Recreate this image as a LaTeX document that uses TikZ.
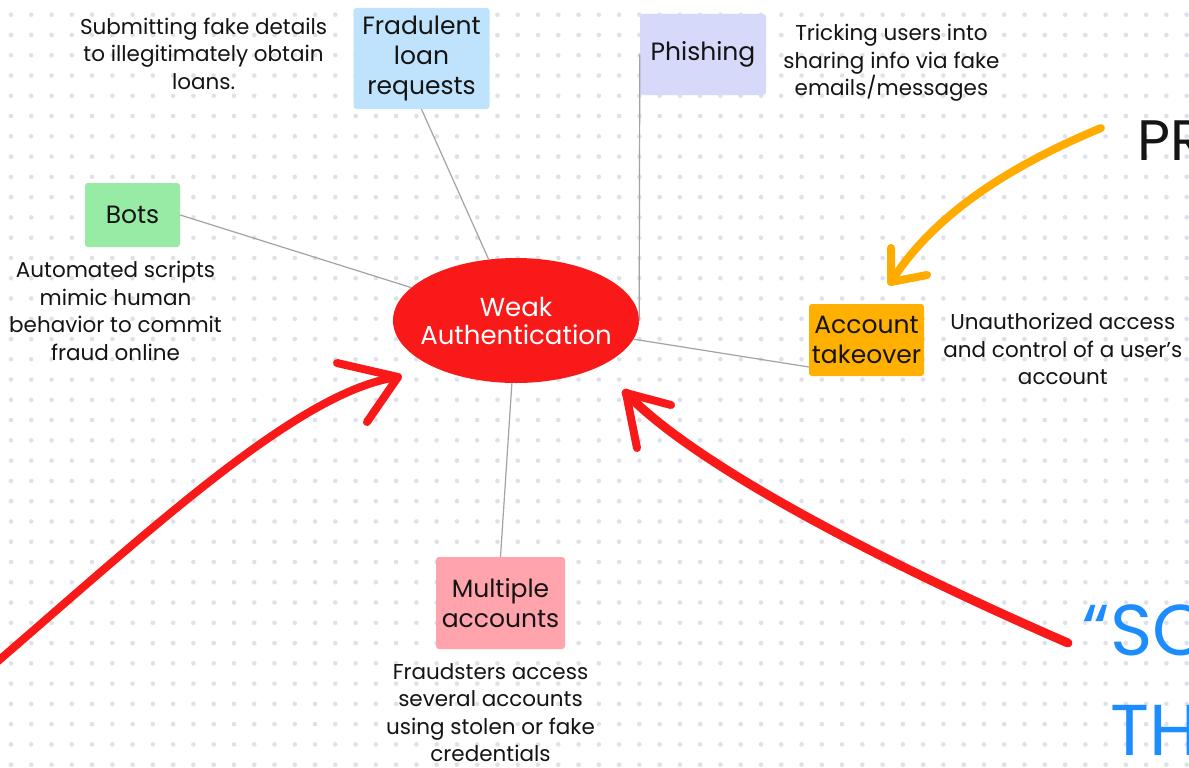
\documentclass[tikz,border=0pt]{standalone}
\usepackage{fontspec}
\setmainfont{Poppins}
\usetikzlibrary{positioning,shapes.geometric}
\definecolor{ink}{HTML}{141414}
\definecolor{linkgray}{HTML}{A3A3A3}
\definecolor{dotgray}{HTML}{DEE1E9}
\definecolor{weakred}{HTML}{F91919}
\definecolor{loanblue}{HTML}{BFE3FC}
\definecolor{phishblue}{HTML}{D6D9FA}
\definecolor{botgreen}{HTML}{97EBA5}
\definecolor{takeorange}{HTML}{FFB000}
\definecolor{multipink}{HTML}{FFA3AD}
\definecolor{penorange}{HTML}{FFAB00}
\definecolor{penblue}{HTML}{1C8CFF}

\begin{document}
\begin{tikzpicture}[x=1pt, y=-1pt,
    node distance=15pt,
    topic/.style={rounded corners=3pt, align=center, inner sep=0pt, text=ink, font=\fontsize{25}{30}\selectfont},
    note/.style={align=center, inner sep=0pt, text=ink, font=\fontsize{21.5}{27.5}\selectfont},
    link/.style={draw=linkgray, line width=1.2pt},
    pen/.style={line width=8pt, line cap=round, line join=round},
    bigword/.style={anchor=base west, inner sep=0pt},
  ]
  \useasboundingbox (0,0) rectangle (1189,768);
  \fill[white] (0,0) rectangle (1189,768);
  \clip (0,0) rectangle (1189,768);
  \foreach \i in {0,...,58}
    \foreach \j in {0,...,37}
      \fill[dotgray] (11+20.27*\i, 14.7+20.27*\j) circle (2.3pt);

  \node[ellipse, fill=weakred, text=white, minimum width=246pt, minimum height=125pt, inner xsep=-12pt, inner ysep=0pt, align=center, font=\fontsize{26}{28}\selectfont] (weak) at (516,320.5) {Weak\\Authentication};

  \node[topic, fill=loanblue, minimum width=136pt, minimum height=101pt] (loan) at (421.5,58.5) {Fradulent\\loan\\requests};
  \node[topic, fill=phishblue, minimum width=126pt, minimum height=81pt] (phishing) at (703,54.5) {Phishing};
  \node[topic, fill=botgreen, minimum width=95pt, minimum height=64pt] (bots) at (132.5,215) {Bots};
  \node[topic, fill=takeorange, minimum width=115pt, minimum height=72pt] (takeover) at (866.5,340) {Account\\takeover};
  \node[topic, fill=multipink, minimum width=129pt, minimum height=92pt] (multiple) at (500.5,603) {Multiple\\accounts};

  \node[note, left=26pt of loan, yshift=5pt] (loannote) {Submitting fake details\\to illegitimately obtain\\loans.};
  \node[note, right=17pt of phishing, yshift=-8.5pt] (phishingnote) {Tricking users into\\sharing info via fake\\emails/messages};
  \node[note, below=14pt of bots, xshift=-17pt] (botsnote) {Automated scripts\\mimic human\\behavior to commit\\fraud online};
  \node[note, right=19pt of takeover, yshift=-9pt] (takeovernote) {Unauthorized access\\and control of a user{\char"0027}s\\account};
  \node[note, below=14pt of multiple, xshift=-10pt] (multiplenote) {Fraudsters access\\several accounts\\using stolen or fake\\credentials};

  \draw[link] (weak) -- (loan.south);
  \draw[link] (weak) -- (bots.east);
  \draw[link] (phishing.west) -- (weak.east);
  \draw[link] (weak) -- ([yshift=-27pt]takeover.west);
  \draw[link] (weak) -- (multiple.north);

  \node[bigword, text=ink, font=\fontsize{57}{60}\selectfont] (pr) at (1137,160) {PR};
  \node[bigword, text=penblue, font=\fontsize{72}{80}\selectfont] (so) at (1110,655) {\llap{“}SO};
  \node[bigword, text=penblue, font=\fontsize{72}{80}\selectfont] (th) at (1110,755) {TH};

  \coordinate (orangestart) at (1101,128);
  \coordinate (orangetip) at (891,282);
  \draw[pen, draw=penorange] (orangestart) .. controls (1000,170) and (930,220) .. (orangetip);
  \draw[pen, draw=penorange] (891,248) -- (orangetip) -- (927,275);

  \coordinate (leftstart) at (-10,668);
  \coordinate (lefttip) at (398,377);
  \draw[pen, draw=weakred] (leftstart) .. controls (150,530) and (300,390) .. (lefttip);
  \draw[pen, draw=weakred] (337,363) -- (lefttip) -- (367,422);

  \coordinate (rightstart) at (1068,643);
  \coordinate (righttip) at (626,393);
  \draw[pen, draw=weakred, line width=9pt] (rightstart) .. controls (900,570) and (700,470) .. (righttip);
  \draw[pen, draw=weakred] (671,405) -- (righttip) -- (637,448);
\end{tikzpicture}
\end{document}
